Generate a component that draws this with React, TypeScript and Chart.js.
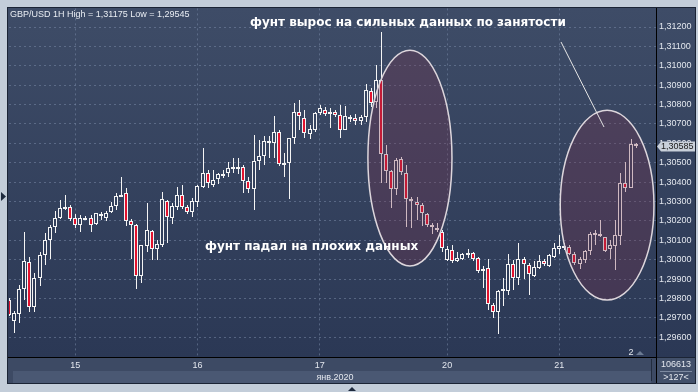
import React, { useEffect, useRef } from 'react';
import { Chart, registerables } from 'chart.js';

Chart.register(...registerables);

const W = 698;
const H = 392;

// ---- data (GBP/USD, 1H candles) ----
const opens = [
  1.29792, 1.29686, 1.29719, 1.29847, 1.29986, 1.29755, 1.29904, 1.30022, 1.30101, 1.30167,
  1.30213, 1.30263, 1.30270, 1.30213, 1.30177, 1.30216, 1.30213, 1.30184, 1.30234, 1.30216,
  1.30244, 1.30277, 1.30328, 1.30342, 1.30199, 1.30177, 1.29916, 1.30071, 1.30148, 1.30053,
  1.30076, 1.30304, 1.30216, 1.30273, 1.30332, 1.30270, 1.30246, 1.30299, 1.30373, 1.30448,
  1.30385, 1.30416, 1.30436, 1.30445, 1.30470, 1.30467, 1.30476, 1.30405, 1.30362, 1.30508,
  1.30534, 1.30604, 1.30604, 1.30658, 1.30494, 1.30500, 1.30630, 1.30761, 1.30733, 1.30647,
  1.30671, 1.30754, 1.30774, 1.30757, 1.30761, 1.30745, 1.30671, 1.30733, 1.30733, 1.30713,
  1.30737, 1.30871, 1.30814, 1.30926, 1.30544, 1.30457, 1.30362, 1.30517, 1.30448, 1.30311,
  1.30297, 1.30280, 1.30235, 1.30179, 1.30165, 1.30144, 1.29998, 1.30048, 1.29995, 1.30003,
  1.30027, 1.30032, 1.30008, 1.29952, 1.29955, 1.29766, 1.29732, 1.29838, 1.29840, 1.29977,
  1.29904, 1.30005, 1.29972, 1.29917, 1.29955, 1.29995, 1.29967, 1.30015, 1.30053, 1.30068,
  1.30067, 1.30027, 1.29976, 1.29998, 1.30044, 1.30127, 1.30132, 1.30115, 1.30053, 1.30070,
  1.30122, 1.30393, 1.30368, 1.30596,
];
const highs = [
  1.29801, 1.29736, 1.29870, 1.30144, 1.30012, 1.29933, 1.30041, 1.30139, 1.30179, 1.30253,
  1.30307, 1.30333, 1.30282, 1.30234, 1.30230, 1.30225, 1.30228, 1.30242, 1.30247, 1.30251,
  1.30299, 1.30342, 1.30428, 1.30368, 1.30208, 1.30184, 1.30074, 1.30294, 1.30153, 1.30101,
  1.30349, 1.30307, 1.30290, 1.30376, 1.30383, 1.30283, 1.30316, 1.30385, 1.30577, 1.30462,
  1.30465, 1.30445, 1.30462, 1.30505, 1.30522, 1.30525, 1.30488, 1.30428, 1.30642, 1.30616,
  1.30637, 1.30637, 1.30740, 1.30668, 1.30548, 1.30630, 1.30809, 1.30826, 1.30771, 1.30694,
  1.30762, 1.30797, 1.30785, 1.30780, 1.30771, 1.30797, 1.30792, 1.30745, 1.30750, 1.30745,
  1.30905, 1.30883, 1.31003, 1.31175, 1.30591, 1.30462, 1.30522, 1.30531, 1.30488, 1.30325,
  1.30325, 1.30290, 1.30239, 1.30187, 1.30187, 1.30153, 1.30072, 1.30075, 1.30041, 1.30036,
  1.30055, 1.30041, 1.30015, 1.29967, 1.30003, 1.29775, 1.29843, 1.29904, 1.30029, 1.29998,
  1.30084, 1.30015, 1.29981, 1.29995, 1.30024, 1.30001, 1.30029, 1.30084, 1.30127, 1.30084,
  1.30074, 1.30041, 1.30012, 1.30049, 1.30144, 1.30152, 1.30207, 1.30118, 1.30101, 1.30204,
  1.30445, 1.30505, 1.30620, 1.30600,
];
const lows = [
  1.29707, 1.29624, 1.29672, 1.29792, 1.29732, 1.29732, 1.29866, 1.29973, 1.30002, 1.30136,
  1.30210, 1.30256, 1.30201, 1.30165, 1.30141, 1.30204, 1.30144, 1.30177, 1.30204, 1.30199,
  1.30239, 1.30256, 1.30325, 1.30174, 1.30005, 1.29847, 1.29882, 1.30041, 1.29998, 1.29998,
  1.30067, 1.30084, 1.30184, 1.30256, 1.30259, 1.30235, 1.30222, 1.30273, 1.30370, 1.30368,
  1.30376, 1.30390, 1.30419, 1.30428, 1.30448, 1.30441, 1.30345, 1.30342, 1.30256, 1.30462,
  1.30488, 1.30522, 1.30525, 1.30484, 1.30428, 1.30311, 1.30599, 1.30668, 1.30625, 1.30620,
  1.30659, 1.30745, 1.30740, 1.30677, 1.30737, 1.30630, 1.30668, 1.30711, 1.30694, 1.30694,
  1.30711, 1.30788, 1.30780, 1.30393, 1.30393, 1.30264, 1.30333, 1.30436, 1.30170, 1.30161,
  1.30204, 1.30173, 1.30170, 1.30131, 1.30141, 1.30041, 1.29993, 1.29984, 1.29988, 1.29998,
  1.30007, 1.29995, 1.29929, 1.29852, 1.29740, 1.29697, 1.29615, 1.29761, 1.29818, 1.29843,
  1.29869, 1.29898, 1.29818, 1.29912, 1.29950, 1.29967, 1.29960, 1.30010, 1.30029, 1.30049,
  1.30022, 1.29972, 1.29950, 1.29984, 1.30024, 1.30075, 1.30118, 1.30041, 1.30003, 1.29946,
  1.30076, 1.30350, 1.30368, 1.30574,
];
const closes = [
  1.29715, 1.29727, 1.29847, 1.29993, 1.29755, 1.29904, 1.30022, 1.30101, 1.30167, 1.30213,
  1.30265, 1.30270, 1.30208, 1.30177, 1.30213, 1.30208, 1.30177, 1.30239, 1.30225, 1.30239,
  1.30277, 1.30330, 1.30335, 1.30199, 1.30177, 1.29918, 1.30074, 1.30153, 1.30053, 1.30079,
  1.30311, 1.30218, 1.30277, 1.30332, 1.30273, 1.30246, 1.30304, 1.30380, 1.30445, 1.30393,
  1.30411, 1.30440, 1.30441, 1.30471, 1.30476, 1.30479, 1.30405, 1.30367, 1.30508, 1.30534,
  1.30611, 1.30611, 1.30659, 1.30491, 1.30500, 1.30630, 1.30761, 1.30740, 1.30651, 1.30673,
  1.30754, 1.30780, 1.30750, 1.30762, 1.30745, 1.30668, 1.30740, 1.30737, 1.30713, 1.30737,
  1.30877, 1.30810, 1.30929, 1.30544, 1.30458, 1.30362, 1.30513, 1.30452, 1.30311, 1.30302,
  1.30280, 1.30239, 1.30179, 1.30170, 1.30153, 1.30058, 1.30055, 1.29993, 1.30007, 1.30029,
  1.30032, 1.30001, 1.29940, 1.29940, 1.29770, 1.29728, 1.29838, 1.29849, 1.29977, 1.29904,
  1.30001, 1.29976, 1.29924, 1.29960, 1.29993, 1.29976, 1.30022, 1.30058, 1.30068, 1.30072,
  1.30029, 1.29981, 1.30003, 1.30044, 1.30132, 1.30135, 1.30122, 1.30046, 1.30074, 1.30127,
  1.30397, 1.30371, 1.30596, 1.30585,
];

const slotCount = 128; // visible bar slots on the x axis
const dayTickIndex = [13, 37, 61, 86, 108];
const dayTickLabels = ['15', '16', '17', '20', '21'];
const yTicks = [
  1.296, 1.297, 1.298, 1.299, 1.3, 1.301, 1.302, 1.303, 1.304,
  1.305, 1.306, 1.307, 1.308, 1.309, 1.31, 1.311, 1.312,
];
const yMin = 1.29498;
const yMax = 1.31296;

const titleText = 'GBP/USD 1H High = 1,31175 Low = 1,29545';
const noteTop = 'фунт вырос на сильных данных по занятости';
const noteBottom = 'фунт падал на плохих данных';
const monthLabel = 'янв.2020';
const volumeLabel = '106613';
const barsLabel = '>127<';
const pageLabel = '2';

const FONT = '"Liberation Sans", Arial, sans-serif';
const fmt = (v: number) => v.toFixed(5).replace('.', ',');

export default function App() {
  const ref = useRef<HTMLCanvasElement>(null);

  useEffect(() => {
    const canvas = ref.current!;
    const ctx = canvas.getContext('2d')!;
    const grad = ctx.createLinearGradient(0, 8, 0, 357);
    grad.addColorStop(0, '#3e4c67');
    grad.addColorStop(1, '#2b3855');

    const bodies = opens.map((o, i) => [Math.min(o, closes[i]), Math.max(o, closes[i])]);
    const wicks = lows.map((l, i) => [l, highs[i]]);
    const bodyColors = opens.map((o, i) => (closes[i] >= o ? grad : '#e2122e'));
    const labels = Array.from({ length: slotCount }, (_, i) => {
      const k = dayTickIndex.indexOf(i);
      return k >= 0 ? dayTickLabels[k] : '';
    });

    const frame = {
      id: 'frame',
      afterDatasetsUpdate(chart: any) {
        // snap candle rectangles to whole pixels for crisp outlines
        const body = chart.getDatasetMeta(0).data;
        const wick = chart.getDatasetMeta(1).data;
        body.forEach((el: any, i: number) => {
          const x = Math.round(el.x);
          el.x = x;
          let top = Math.round(Math.min(el.y, el.base));
          let bot = Math.round(Math.max(el.y, el.base));
          if (bot - top < 2) bot = top + 2;
          el.y = top;
          el.base = bot;
          const w = wick[i];
          if (w) {
            w.x = x + 0.5;
            w.y = Math.round(Math.min(w.y, w.base));
            w.base = Math.round(Math.max(w.y, w.base));
          }
        });
      },
      beforeDraw(chart: any) {
        const c = chart.ctx;
        const a = chart.chartArea;
        c.save();
        c.fillStyle = '#c3cdd9';
        c.fillRect(0, 0, W, H);
        c.fillStyle = '#1b2435';
        c.fillRect(7, 7, 689, 377);
        c.fillStyle = grad;
        c.fillRect(8, 8, 687, a.bottom - 8);
        // date strip
        c.fillStyle = '#3d4a64';
        c.fillRect(8, a.bottom + 1, a.right - 8, 25);
        c.fillStyle = '#4a5873';
        c.fillRect(13, a.bottom + 14, a.right - 18, 12);
        c.fillStyle = '#222c3e';
        c.fillRect(a.right - 5, a.bottom + 2, 1, 22);
        // right bottom box
        c.fillStyle = '#42506a';
        c.fillRect(a.right + 1, a.bottom + 1, 38, 25);
        c.fillStyle = '#7d8aa0';
        c.fillRect(a.right + 4, a.bottom + 14, 32, 1);
        // separators
        c.fillStyle = '#000000';
        c.fillRect(8, a.bottom, a.right - 8, 1);
        c.fillRect(a.right, 8, 1, 375);
        c.restore();
      },
      afterDatasetsDraw(chart: any) {
        const c = chart.ctx;
        const xs = chart.scales.x;
        const ys = chart.scales.y;
        const step = xs.getPixelForValue(1) - xs.getPixelForValue(0);
        const ellipses = [
          { x: 78.7, y: 1.30524, rx: 8.25, ry: 0.005564 },
          { x: 117.4, y: 1.30281, rx: 9.2, ry: 0.004894 },
        ];
        c.save();
        for (const e of ellipses) {
          const cx = xs.getPixelForValue(e.x);
          const cy = ys.getPixelForValue(e.y);
          const rx = e.rx * step;
          const ry = ys.getPixelForValue(e.y - e.ry) - cy;
          c.beginPath();
          c.ellipse(cx, cy, rx, ry, 0, 0, Math.PI * 2);
          c.fillStyle = 'rgba(122,50,76,0.30)';
          c.fill();
          c.lineWidth = 1.5;
          c.strokeStyle = '#ddd6dc';
          c.stroke();
        }
        // pointer line
        c.beginPath();
        c.moveTo(561, 42);
        c.lineTo(604, 127);
        c.lineWidth = 1;
        c.strokeStyle = '#e6e6e6';
        c.stroke();
        // notes
        c.fillStyle = '#ffffff';
        c.font = 'bold 12px "DejaVu Sans", sans-serif';
        c.textBaseline = 'alphabetic';
        c.textAlign = 'left';
        c.fillText(noteTop, 250, 26);
        c.fillText(noteBottom, 205, 250);
        c.restore();
      },
      afterDraw(chart: any) {
        const c = chart.ctx;
        const a = chart.chartArea;
        const ys = chart.scales.y;
        c.save();
        // header
        c.fillStyle = '#e9edf3';
        c.font = `9px ${FONT}`;
        c.textBaseline = 'alphabetic';
        c.textAlign = 'left';
        c.fillText(titleText, 10, 17);
        // last price tag
        const last = closes[closes.length - 1];
        const py = Math.round(ys.getPixelForValue(last)) + 0.5;
        c.beginPath();
        c.moveTo(a.right + 1, py);
        c.lineTo(a.right + 5, py - 5);
        c.lineTo(a.right + 39, py - 5);
        c.lineTo(a.right + 39, py + 5);
        c.lineTo(a.right + 5, py + 5);
        c.closePath();
        c.fillStyle = '#c9d0da';
        c.fill();
        c.fillStyle = '#1a1a1a';
        c.textBaseline = 'middle';
        c.fillText(fmt(last), a.right + 5, py);
        // page marker
        c.fillStyle = '#e3e7ee';
        c.textAlign = 'center';
        c.fillText(pageLabel, 631, a.bottom - 4);
        c.fillStyle = '#6b7a93';
        c.beginPath();
        c.moveTo(636, a.bottom - 2);
        c.lineTo(644, a.bottom - 2);
        c.lineTo(640, a.bottom - 6);
        c.closePath();
        c.fill();
        // strip texts
        c.fillStyle = '#e3e7ee';
        c.fillText(monthLabel, 335, a.bottom + 20.5);
        c.fillText(volumeLabel, a.right + 20, a.bottom + 7.5);
        c.fillText(barsLabel, a.right + 20, a.bottom + 20.5);
        // border markers
        c.fillStyle = '#1e2a3e';
        c.beginPath();
        c.moveTo(1, 192);
        c.lineTo(1, 201);
        c.lineTo(6, 196.5);
        c.closePath();
        c.fill();
        c.beginPath();
        c.moveTo(348, 391);
        c.lineTo(356, 391);
        c.lineTo(352, 387);
        c.closePath();
        c.fill();
        c.restore();
      },
    };

    const chart = new Chart(ctx, {
      type: 'bar',
      data: {
        labels,
        datasets: [
          {
            label: 'body',
            data: bodies as any,
            grouped: false,
            barThickness: 4,
            borderWidth: 1,
            borderColor: '#f4f4f4',
            borderSkipped: false,
            backgroundColor: bodyColors as any,
            inflateAmount: 0,
          } as any,
          {
            label: 'wick',
            data: wicks as any,
            grouped: false,
            barThickness: 1,
            borderWidth: 0,
            backgroundColor: '#f4f4f4',
            inflateAmount: 0,
          } as any,
        ],
      },
      options: {
        responsive: false,
        maintainAspectRatio: false,
        devicePixelRatio: 1,
        animation: false,
        events: [],
        layout: { padding: { left: 9, top: 8, right: 0, bottom: 0 } },
        plugins: { legend: { display: false }, tooltip: { enabled: false } },
        scales: {
          x: {
            type: 'category',
            offset: false,
            afterFit: (s: any) => {
              s.height = 35;
            },
            grid: {
              offset: false,
              drawTicks: false,
              color: (g: any) => (labels[g.index] ? 'rgba(120,136,165,0.55)' : 'rgba(0,0,0,0)'),
            },
            border: { display: false, dash: [2, 3] },
            ticks: {
              autoSkip: false,
              maxRotation: 0,
              padding: 3,
              color: '#e3e7ee',
              font: { family: FONT, size: 9 },
            },
          },
          y: {
            type: 'linear',
            position: 'right',
            min: yMin,
            max: yMax,
            afterBuildTicks: (s: any) => {
              s.ticks = yTicks.map((v) => ({ value: v }));
            },
            afterFit: (s: any) => {
              s.width = 42;
            },
            grid: { drawTicks: false, color: 'rgba(120,136,165,0.55)' },
            border: { display: false, dash: [2, 3] },
            ticks: {
              padding: 3,
              color: '#e3e7ee',
              font: { family: FONT, size: 9 },
              callback: (v: any) => fmt(Number(v)),
            },
          },
        },
      },
      plugins: [frame],
    } as any);

    return () => chart.destroy();
  }, []);

  return (
    <div style={{ position: 'absolute', left: 0, top: 0, width: W, height: H }}>
      <canvas ref={ref} width={W} height={H} style={{ display: 'block', width: W, height: H }} />
    </div>
  );
}
